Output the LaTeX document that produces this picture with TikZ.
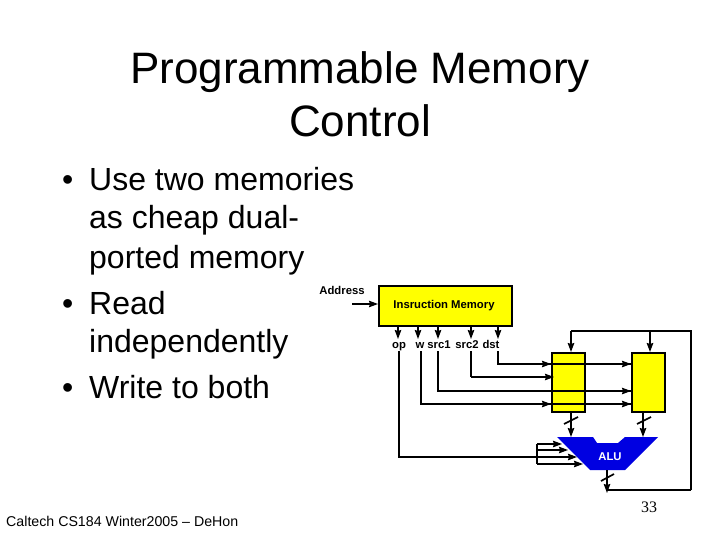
\documentclass[tikz,border=0pt]{standalone}
\usepackage{fontspec}
\setmainfont{Liberation Sans}
\newfontfamily\timesf{Liberation Serif}
\usetikzlibrary{arrows.meta,calc}
\definecolor{memy}{RGB}{255,255,0}
\definecolor{alub}{RGB}{0,0,225}
\tikzset{
  wire/.style={line width=1.3pt,black},
  thick wire/.style={line width=1.7pt,black},
  arr/.style={-{Stealth[length=9pt,width=6.5pt,inset=1pt]}},
  membox/.style={draw=black,fill=memy,line width=1.5pt,inner sep=0pt,anchor=north west},
  lab/.style={font=\bfseries\fontsize{11.3}{12}\selectfont,inner sep=0pt,anchor=base},
  titletext/.style={font=\fontsize{44}{50}\selectfont,inner sep=0pt,anchor=base},
  bodytext/.style={font=\fontsize{32}{36}\selectfont,inner sep=0pt,anchor=base west},
}
\begin{document}
\begin{tikzpicture}[x=1pt,y=-1pt]
\useasboundingbox (0,0) rectangle (720,540);
% text
\node[titletext] (t1) at (360,84) {Programmable Memory};
\node[titletext] (t2) at (360,137) {Control};
\foreach \n/\x/\y/\s in {a/62/191/•,b/89/191/Use two memories,c/89/229/as cheap dual-,d/89/268/ported memory,e/62/314/•,f/89/314/Read,g/89/352/independently,h/62/398/•,i/89/398/Write to both}
  \node[bodytext] (b\n) at (\x,\y) {\s};
\node[font=\fontsize{14.2}{16}\selectfont,inner sep=0pt,anchor=base west] (foot) at (6,526) {Caltech CS184 Winter2005 -- DeHon};
\node[font=\timesf\fontsize{16}{18}\selectfont,inner sep=0pt] (pg) at (649,507) {33};
% memories
\node[membox,minimum width=133pt,minimum height=40pt] (im) at (378,285) {};
\node[lab] (imt) at (444,308) {Insruction Memory};
\node[membox,minimum width=33pt,minimum height=59pt] (ml) at (551,352) {};
\node[membox,minimum width=33pt,minimum height=59pt] (mr) at (631,352) {};
% address
\node[lab] (addr) at (342,294) {Address};
\coordinate (as) at (352,304);
\draw[wire,arr] (as) -- (as -| im.west);
% labels
\node[lab] (op) at (399,348) {op};
\node[lab] (w) at (420,348) {w};
\node[lab] (s1) at (439,348) {src1};
\node[lab] (s2) at (467,348) {src2};
\node[lab] (d) at (491,348) {dst};
\foreach \x in {398,418,438,471,498}
  \draw[wire,arr] (\x,325) -- (\x,339);
% instruction wires
\coordinate (dc) at (498,364);
\coordinate (s2c) at (471,377);
\coordinate (s1c) at (438,391);
\coordinate (wc) at (421,404);
\coordinate (opc) at (399,457);
\draw[wire] (498,351) -- (dc) -- (dc -| mr.west);
\draw[wire] (471,351) -- (s2c);
\draw[thick wire] (438,351) -- (s1c) -- (s1c -| mr.west);
\draw[thick wire] (421,351) -- (wc) -- (wc -| mr.west);
\draw[wire] (399,351) -- (opc) -- (537,457);
\draw[wire,arr] (s2c) -- ($(s2c -| ml.west)+(3,0)$);
\foreach \c in {dc,wc}
  \draw[wire,arr] (\c -| 530,0) -- (\c -| ml.west);
\foreach \c in {dc,s1c,wc}
  \draw[wire,arr] (\c -| 610,0) -- (\c -| mr.west);
% top feedback
\coordinate (tl) at (571,331);
\coordinate (tm) at (650,331);
\coordinate (tr) at (691,331);
\coordinate (br) at (691,490);
\coordinate (bm) at (607,490);
\draw[thick wire] (tl) -- (tr) -- (br);
\draw[wire] (br) -- (bm);
\draw[thick wire,arr] (tl) -- (tl |- ml.north);
\draw[thick wire,arr] (tm) -- (tm |- mr.north);
% ALU
\coordinate (a1) at (557,437);
\coordinate (a2) at (593,437);
\coordinate (a3) at (597,443);
\coordinate (a4) at (618,443);
\coordinate (a5) at (625,437);
\coordinate (a6) at (658,437);
\coordinate (a7) at (625,470);
\coordinate (a8) at (590,470);
\fill[alub] (a1) -- (a2) -- (a3) -- (a4) -- (a5) -- (a6) -- (a7) -- (a8) -- cycle;
\node[font=\bfseries\fontsize{11.3}{12}\selectfont,text=white,inner sep=0pt,anchor=base] (alu) at (610,460) {ALU};
% memory to ALU
\draw[wire,arr] (ml.south -| 571,0) -- (571,437);
\draw[wire,arr] (mr.south -| 643,0) -- (643,437);
\draw[thick wire] (564,424) -- (578,417);
\draw[thick wire] (637,424) -- (651,417);
\draw[wire,arr] (607,470) -- (607,493);
\draw[thick wire] (601,481) -- (614,474);
% op bracket
\coordinate (bt) at (537,444);
\coordinate (bb) at (537,464);
\draw[wire] (bt) -- (bb);
\draw[wire,arr] (bt) -- (562,444);
\draw[wire,arr] (537,450) -- (568,450);
\draw[wire,arr] (537,457) -- (577,457);
\draw[wire,arr] (bb) -- (583,464);
\end{tikzpicture}
\end{document}
